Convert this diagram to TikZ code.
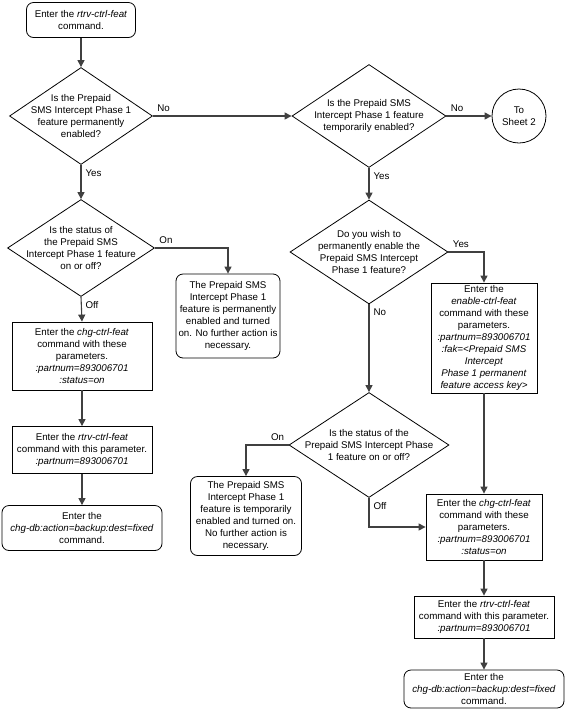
\documentclass[tikz,border=0pt]{standalone}
\usepackage{fontspec}
\setmainfont{Liberation Sans}
\usetikzlibrary{positioning,shapes,arrows.meta,calc}

\begin{document}
\begin{tikzpicture}[x=1pt,y=-1pt,font=\fontsize{9.75}{11.9}\selectfont]

	\tikzstyle{inicio} = [rectangle,rounded corners=7pt,draw=black,line width=0.8pt,align=center,inner sep=0pt]
	\tikzstyle{comando} = [rectangle,draw=black,line width=0.8pt,align=center,inner sep=0pt]
	\tikzstyle{pregunta} = [diamond,draw=black,line width=0.8pt,inner sep=0pt]
	\tikzstyle{hoja} = [circle,draw=black,line width=0.8pt,align=center,minimum size=54pt,inner sep=0pt]
	\tikzstyle{linea} = [-{Triangle[length=7pt,width=7pt]},line width=1.1pt,draw=black!75]
	\tikzstyle{resp} = [inner sep=4pt]

	\useasboundingbox (0,0) rectangle (565,716);

	% columna izquierda
	\node[inicio,minimum width=109pt,minimum height=35pt] (r1) at (81,20) {Enter the \textit{rtrv-ctrl-feat}\\command.};
	\node[pregunta,minimum width=143pt,minimum height=97pt,
		label={[align=center]center:Is the Prepaid\\SMS Intercept Phase 1\\feature permanently\\enabled?}] (p1) at (81,116) {};
	\node[pregunta,minimum width=147pt,minimum height=97pt,
		label={[align=center]center:Is the status of\\the Prepaid SMS\\Intercept Phase 1 feature\\on or off?}] (p3) at (81,248) {};
	\node[inicio,minimum width=104pt,minimum height=84pt] (e1) at (228,316) {The Prepaid SMS\\Intercept Phase 1\\feature is permanently\\enabled and turned\\on. No further action is\\necessary.};
	\node[comando,minimum width=140pt,minimum height=68pt] (c1) at (82,356) {Enter the \textit{chg-ctrl-feat}\\command with these\\parameters.\\\textit{:partnum=893006701}\\\textit{:status=on}};
	\node[comando,minimum width=140pt,minimum height=47pt] (v1) at (82,450) {Enter the \textit{rtrv-ctrl-feat}\\command with this parameter.\\\textit{:partnum=893006701}};
	\node[inicio,minimum width=160pt,minimum height=45pt] (b1) at (82,528) {Enter the\\\textit{chg-db:action=backup:dest=fixed}\\command.};

	% columna derecha
	\node[pregunta,minimum width=154pt,minimum height=103pt,
		label={[align=center]center:Is the Prepaid SMS\\Intercept Phase 1 feature\\temporarily enabled?}] (p2) at (369,116) {};
	\node[hoja] (h2) at (519,116) {To\\Sheet 2};
	\node[pregunta,minimum width=158pt,minimum height=104pt,
		label={[align=center]center:Do you wish to\\permanently enable the\\Prepaid SMS Intercept\\Phase 1 feature?}] (p4) at (369,252) {};
	\node[comando,minimum width=106pt,minimum height=110pt] (a1) at (484,338) {Enter the\\\textit{enable-ctrl-feat}\\command with these\\parameters.\\\textit{:partnum=893006701}\\\textit{:fak=<Prepaid SMS}\\\textit{Intercept}\\\textit{Phase 1 permanent}\\\textit{feature access key>}};
	\node[pregunta,minimum width=160pt,minimum height=105pt,
		label={[align=center]center:Is the status of the\\Prepaid SMS Intercept Phase\\1 feature on or off?}] (p5) at (369,445) {};
	\node[inicio,minimum width=111pt,minimum height=79pt] (e2) at (246,516) {The Prepaid SMS\\Intercept Phase 1\\feature is temporarily\\enabled and turned on.\\No further action is\\necessary.};
	\node[comando,minimum width=116pt,minimum height=66pt] (c2) at (484,527) {Enter the \textit{chg-ctrl-feat}\\command with these\\parameters.\\\textit{:partnum=893006701}\\\textit{:status=on}};
	\node[comando,minimum width=140pt,minimum height=42pt] (v2) at (484,617) {Enter the \textit{rtrv-ctrl-feat}\\command with this parameter.\\\textit{:partnum=893006701}};
	\node[inicio,minimum width=160pt,minimum height=38pt] (b2) at (484,689) {Enter the\\\textit{chg-db:action=backup:dest=fixed}\\command.};

	% flechas
	\draw[linea] (r1) -- (p1);
	\draw[linea] (p1.east) node[resp,above right] {No} -- (p2.west);
	\draw[linea] (p2.east) node[resp,above right] {No} -- (h2.west);
	\draw[linea] (p1.south) node[resp,below right] {Yes} -- (p3.north);
	\draw[linea] (p3.east) node[resp,above right] {On} -| (e1.north);
	\draw[linea] (p3.south) node[resp,below right] {Off} -- (c1.north);
	\draw[linea] (c1) -- (v1);
	\draw[linea] (v1) -- (b1);
	\draw[linea] (p2.south) node[resp,below right] {Yes} -- (p4.north);
	\draw[linea] (p4.east) node[resp,above right] {Yes} -| (a1.north);
	\draw[linea] (p4.south) node[resp,below right] {No} -- (p5.north);
	\draw[linea] (p5.west) node[resp,above left] {On} -| (e2.north);
	\draw[linea] (p5.south) node[resp,below right] {Off} |- (c2.west);
	\draw[linea] (a1) -- (c2);
	\draw[linea] (c2) -- (v2);
	\draw[linea] (v2) -- (b2);

\end{tikzpicture}
\end{document}
